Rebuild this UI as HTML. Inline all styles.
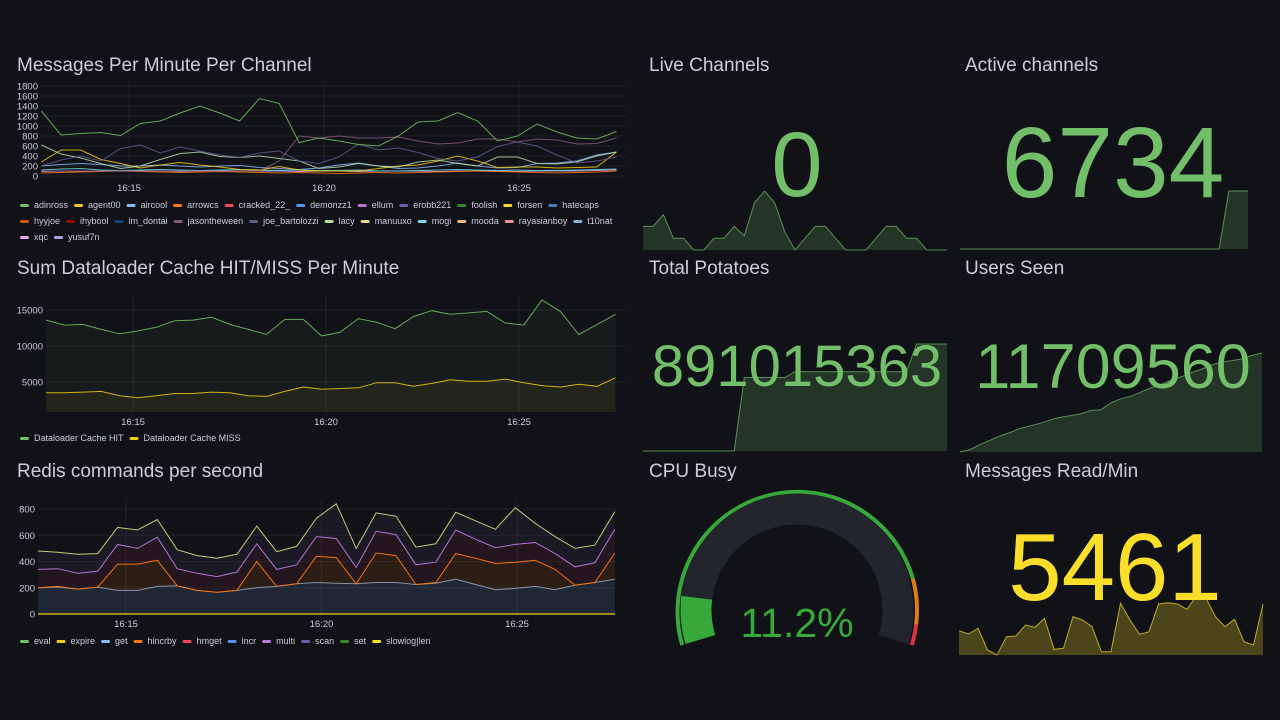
<!DOCTYPE html>
<html><head><meta charset="utf-8">
<style>
html,body{margin:0;padding:0;background:#111217;width:1280px;height:720px;overflow:hidden}
svg{display:block;font-family:"Liberation Sans",sans-serif}
</style></head>
<body>
<svg id="root" width="1280" height="720" viewBox="0 0 1280 720">
  <rect width="1280" height="720" fill="#111217"/>
  <g id="titles" fill="#ccccdc" font-size="19">
    <text x="17" y="71">Messages Per Minute Per Channel</text>
    <text x="17" y="274">Sum Dataloader Cache HIT/MISS Per Minute</text>
    <text x="17" y="477">Redis commands per second</text>
    <text x="649" y="71">Live Channels</text>
    <text x="965" y="71">Active channels</text>
    <text x="649" y="274">Total Potatoes</text>
    <text x="965" y="274">Users Seen</text>
    <text x="649" y="477">CPU Busy</text>
    <text x="965" y="477">Messages Read/Min</text>
  </g>
  <g id="chart1"></g>
  <g id="chart2"></g>
  <g id="chart3"></g>
  <g id="stats"></g>
</svg>
<script>
// ---------- shared ----------
const tStart = 12.75, tEnd = 27.5;
const timeTicks = [15, 20, 25];
const timeTickLabels = ["16:15", "16:20", "16:25"];

// ---------- chart 1 data ----------
const c1Names = ["adinross","agent00","aircool","arrowcs","cracked_22_","demonzz1","ellum","erobb221","foolish","forsen","hatecaps","hyyjoe","ihybool","im_dontai","jasontheween","joe_bartolozzi","lacy","manuuxo","mogi","mooda","rayasianboy","t10nat","xqc","yusuf7n"];
const c1Colors = ["#73BF69","#F2CC0C","#8AB8FF","#FF780A","#F2495C","#5794F2","#B877D9","#705DA0","#37872D","#FADE2A","#447EBC","#C15C17","#890F02","#0A437C","#8a5a80","#5f5a8f","#B7DBAB","#F4D598","#70DBED","#F9BA8F","#F29191","#82B5D8","#E5A8E2","#AEA2E0"];
const c1Adinross = [1300,820,850,870,810,1050,1100,1260,1400,1260,1100,1550,1450,670,760,700,630,600,800,1080,1100,1270,1100,700,800,1040,880,760,740,890];
const c1Jason = [100,100,100,100,100,100,100,100,100,100,100,100,300,800,760,800,760,760,780,700,640,660,740,740,680,740,720,640,650,760];
const c1Joe = [200,320,400,300,550,620,460,580,500,420,370,460,500,300,250,380,640,520,560,470,350,300,380,590,680,600,420,260,300,380];
const c1Lacy = [620,440,360,250,150,200,330,450,480,390,370,400,350,300,150,180,250,200,180,280,320,250,200,380,380,250,240,280,400,480];
const c1Agent = [280,520,520,330,250,160,220,270,220,180,130,120,190,120,100,100,100,150,200,220,300,400,300,170,180,180,160,170,180,480];
const c1Aircool = [200,230,250,230,200,200,220,200,180,200,210,170,150,130,160,220,260,200,150,160,200,260,200,160,170,250,260,300,420,480];
const c1Mogi = [120,140,150,120,110,120,130,120,110,120,130,120,110,120,110,110,120,100,100,110,120,130,120,110,120,110,110,120,130,140];
const c1Xqc = [90,100,90,100,100,110,100,90,100,110,100,100,100,90,100,100,90,100,100,100,90,100,100,100,90,100,100,100,110,120];
const c1Arrow = [60,70,80,90,100,90,80,70,80,90,80,70,60,70,60,50,60,70,60,70,80,90,100,90,80,70,60,70,80,100];
const c1Y = [0,200,400,600,800,1000,1200,1400,1600,1800];

// ---------- chart 2 data ----------
const c2Hit = [13600,12900,13000,12300,11700,12100,12600,13500,13600,14000,13000,12300,11600,13700,13700,11400,11900,13800,13300,12400,14100,14900,14400,14600,14800,13200,12900,16400,14800,11600,13000,14400];
const c2Miss = [3500,3500,3600,3700,3100,2800,3100,3400,3400,3600,3500,3100,3000,3700,4300,4000,4100,4200,4900,4900,4400,4800,5300,5100,5100,5400,4900,4500,4300,4700,4400,5600];
const c2Y = [5000,10000,15000];

// ---------- chart 3 data ----------
const c3Get = [200,205,190,205,180,180,210,215,180,165,180,200,210,230,240,235,230,240,240,225,235,265,225,185,195,210,185,220,240,265];
const c3Hincrby = [0,5,0,0,200,200,200,0,0,0,0,200,0,0,200,195,0,225,205,0,5,195,200,200,200,200,155,0,0,200];
const c3Multi = [140,135,120,120,150,120,175,130,130,120,140,135,130,145,150,145,125,165,160,150,155,180,145,120,135,135,120,140,150,180];
const c3Scan = [140,125,145,135,130,140,135,145,135,140,135,135,135,140,140,265,145,140,140,135,140,135,140,140,280,145,130,140,135,135];
const c3Y = [0,200,400,600,800];
const c3Legend = ["eval","expire","get","hincrby","hmget","incr","multi","scan","set","slowlog|len"];
const c3LegendColors = ["#73BF69","#F2CC0C","#8AB8FF","#FF780A","#F2495C","#5794F2","#B877D9","#705DA0","#37872D","#FADE2A"];

// ---------- stat data ----------
const liveSpark = [2,2,3,1,1,0,0,1,1,2,1.2,4,5,4,1.5,0,1,2,2,1,0,0,0,1,2,2,1,1,0,0,0];
const activeSpark = [0,0,0,0,0,0,0,0,0,0,0,0,0,0,0,0,0,0,0,0,0,0,0,0,0,0,0,0,6734,6734,6734];
const potatoSpark = [0,0,0,0,0,0,0,0,0,0,612,612,612,612,612,660,660,660,660,660,660,660,660,660,660,660,660,891,891,891,891];
const usersSpark = [0,0.3,0.9,1.4,1.9,2.3,2.8,3.1,3.4,3.8,4.1,4.3,4.5,4.9,5.0,5.8,6.3,6.6,7.1,7.6,8.0,8.5,8.9,9.4,9.8,10.3,10.6,10.8,11.0,11.4,11.7];
const readSpark = [73,63,80,15,0,55,57,90,83,110,17,20,115,105,85,10,10,155,105,62,70,153,157,153,137,177,170,115,85,107,40,30,153];
const statValues = ["0","6734","891015363","11709560","5461"];
const cpuValue = 11.2;

const NS = "http://www.w3.org/2000/svg";
function mk(parent, tag, attrs){const e=document.createElementNS(NS,tag);for(const k in attrs)e.setAttribute(k,attrs[k]);parent.appendChild(e);return e;}
function tOf(i,n){return tStart + i*(tEnd-tStart)/(n-1);}
function pathOf(vals, xf, yf){return vals.map((v,i)=>(i?"L":"M")+xf(tOf(i,vals.length)).toFixed(1)+","+yf(v).toFixed(1)).join("");}

function axes(g, xf, yf, yTicks, x0, x1, yTop, yBot, xLabelY, yLabelX){
  yTicks.forEach(v=>{
    const gl=mk(g,"line",{x1:x0,x2:x1,y1:yf(v),y2:yf(v),stroke:"rgba(204,204,220,0.08)"});
    
    
    const t=mk(g,"text",{x:yLabelX,y:yf(v)+3.5,fill:"#ccccdc","font-size":"9.5","text-anchor":"end"});
    t.textContent=v;
    
    
  });
  timeTicks.forEach((tt,i)=>{
    const gl=mk(g,"line",{x1:xf(tt),x2:xf(tt),y1:yTop,y2:yBot,stroke:"rgba(204,204,220,0.08)"});
    
    
    const t=mk(g,"text",{x:xf(tt),y:xLabelY,fill:"#ccccdc","font-size":"9.5","text-anchor":"middle"});
    t.textContent=timeTickLabels[i];
    
    
  });
}
function legend(g, names, colors, x0, y0, maxX, rowH){
  let x=x0, y=y0;
  names.forEach((n,i)=>{
    const item=mk(g,"g",{});
    
    
    const r=mk(item,"rect",{x:x,y:y-4,width:9,height:3,rx:1.5,fill:colors[i]});
    const t=mk(item,"text",{x:x+14,y:y,fill:"#ccccdc","font-size":"9"});
    t.textContent=n;
    const w=t.getComputedTextLength();
    if(x+14+w>maxX && x>x0){x=x0;y+=rowH;r.setAttribute("x",x);r.setAttribute("y",y-4);t.setAttribute("x",x+14);t.setAttribute("y",y);}
    x+=14+w+6;
  });
}

// ---------- chart 1 ----------
(function(){
  const g=document.getElementById("chart1");
  const xf=t=>129+(t-15)*39, yf=v=>176-v*0.05;
  axes(g,xf,yf,c1Y,40,627,82,180,191,38);
  const series=[[c1Xqc,"#E5A8E2"],[c1Arrow,"#FF780A"],[c1Mogi,"#70DBED"],[c1Aircool,"#8AB8FF"],[c1Agent,"#F2CC0C"],[c1Lacy,"#B7DBAB"],[c1Joe,"#5f5a8f"],[c1Jason,"#8a5a80"],[c1Adinross,"#73BF69"]];
  series.forEach(s=>{
    const p=mk(g,"path",{d:pathOf(s[0],xf,yf),fill:"none",stroke:s[1],"stroke-width":"1","stroke-opacity":"0.85"});
    
    
  });
  legend(g,c1Names,c1Colors,20,208,630,16);
})();

// ---------- chart 2 ----------
(function(){
  const g=document.getElementById("chart2");
  const xf=t=>133+(t-15)*38.6, yf=v=>418-v/5000*36;
  axes(g,xf,yf,c2Y,46,627,296,412,425,43);
  [[c2Hit,"#73BF69","hit"],[c2Miss,"#F2CC0C","miss"]].forEach(s=>{
    const d=pathOf(s[0],xf,yf);
    const a=mk(g,"path",{d:d+"L"+xf(tEnd)+",412L"+xf(tStart)+",412Z",fill:s[1],"fill-opacity":"0.06"});
    
    
    const p=mk(g,"path",{d:d,fill:"none",stroke:s[1],"stroke-width":"1","stroke-opacity":"0.85"});
    
    
  });
  legend(g,["Dataloader Cache HIT","Dataloader Cache MISS"],["#73BF69","#F2CC0C"],20,441,630,16);
})();

// ---------- chart 3 ----------
(function(){
  const g=document.getElementById("chart3");
  const xf=t=>126+(t-15)*39.1, yf=v=>614-v*(105/800);
  axes(g,xf,yf,c3Y,38,617,500,616,627,35);
  const layers=[[c3Get,"#7f93b3","#5d7ea8",0.2],[c3Hincrby,"#FF780A","#FF780A",0.12],[c3Multi,"#B877D9","#8a2f4a",0.15],[c3Scan,"#c9c77a","#705DA0",0.1]];
  let prev=c3Get.map(()=>0);
  layers.forEach((L,li)=>{
    const cum=L[0].map((v,i)=>v+prev[i]);
    const top=pathOf(cum,xf,yf);
    const bot=prev.map((v,i)=>[xf(tOf(i,prev.length)),yf(v)]).reverse().map(p=>"L"+p[0].toFixed(1)+","+p[1].toFixed(1)).join("");
    const a=mk(g,"path",{d:top+bot+"Z",fill:L[2],"fill-opacity":L[3]});
    
    
    const p=mk(g,"path",{d:top,fill:"none",stroke:L[1],"stroke-width":"1"});
    
    
    prev=cum;
  });
  const z=mk(g,"line",{x1:38,x2:615,y1:yf(0),y2:yf(0),stroke:"#F2CC0C","stroke-width":"1.2"});
  
  
  legend(g,c3Legend,c3LegendColors,20,644,630,16);
})();

// ---------- stats ----------
(function(){
  const g=document.getElementById("stats");
  function spark(vals,x0,x1,yBot,yTop,color,fo,name){
    const mx=Math.max(...vals);
    const xf=i=>x0+i*(x1-x0)/(vals.length-1), yf=v=>yBot-(v/mx)*(yBot-yTop);
    const d=vals.map((v,i)=>(i?"L":"M")+xf(i).toFixed(1)+","+yf(v).toFixed(1)).join("");
    const a=mk(g,"path",{d:d+"L"+x1+","+yBot+"L"+x0+","+yBot+"Z",fill:color,"fill-opacity":fo});
    
    
    const p=mk(g,"path",{d:d,fill:"none",stroke:color,"stroke-width":"1","stroke-opacity":"0.7"});
    
    
  }
  function big(txt,x,y,size,color,name){
    const t=mk(g,"text",{x:x,y:y,fill:color,"font-size":size,"text-anchor":"middle"});
    t.textContent=txt;
    
    
  }
  spark(liveSpark,643,947,250,191,"#73BF69",0.2,"live-channels");
  spark(activeSpark,960,1248,249,191,"#73BF69",0.2,"active-channels");
  spark(potatoSpark,643,947,451,344,"#73BF69",0.2,"total-potatoes");
  spark(usersSpark,960,1262,452,353,"#73BF69",0.2,"users-seen");
  spark(readSpark,959,1263,655,596,"#FADE2A",0.25,"messages-read");
  big(statValues[0],797,196,92,"#73BF69","live-channels-value");
  big(statValues[1],1113,197,100,"#73BF69","active-channels-value");
  big(statValues[2],797,386,58,"#73BF69","total-potatoes-value");
  big(statValues[3],1113,388,63,"#73BF69","users-seen-value");
  big(statValues[4],1115,600,96,"#FADE2A","messages-read-value");

  // gauge
  const cx=797, cy=610, a0=197, span=214;
  const P=(r,deg)=>{const a=deg*Math.PI/180;return [cx+r*Math.cos(a), cy-r*Math.sin(a)];};
  function arc(r,d0,d1,color,w,name){
    const p0=P(r,d0),p1=P(r,d1);const large=(d0-d1)>180?1:0;
    const e=mk(g,"path",{d:`M${p0[0].toFixed(1)},${p0[1].toFixed(1)}A${r},${r} 0 ${large} 1 ${p1[0].toFixed(1)},${p1[1].toFixed(1)}`,fill:"none",stroke:color,"stroke-width":w});
    
    
  }
  arc(120,a0,15,"#37a93a",4,"gauge-threshold-green");
  arc(120,15,-7,"#e07b1a",4,"gauge-threshold-orange");
  arc(120,-7,a0-span,"#e02f44",4,"gauge-threshold-red");
  arc(101,a0,a0-span,"#22252b",31,"gauge-track");
  arc(101,a0,a0-span*cpuValue/100,"#37a93a",31,"gauge-value-arc");
  big(cpuValue.toFixed(1)+"%",797,637,41,"#37a93a","cpu-busy-value");
})();
</script>
</body></html>
